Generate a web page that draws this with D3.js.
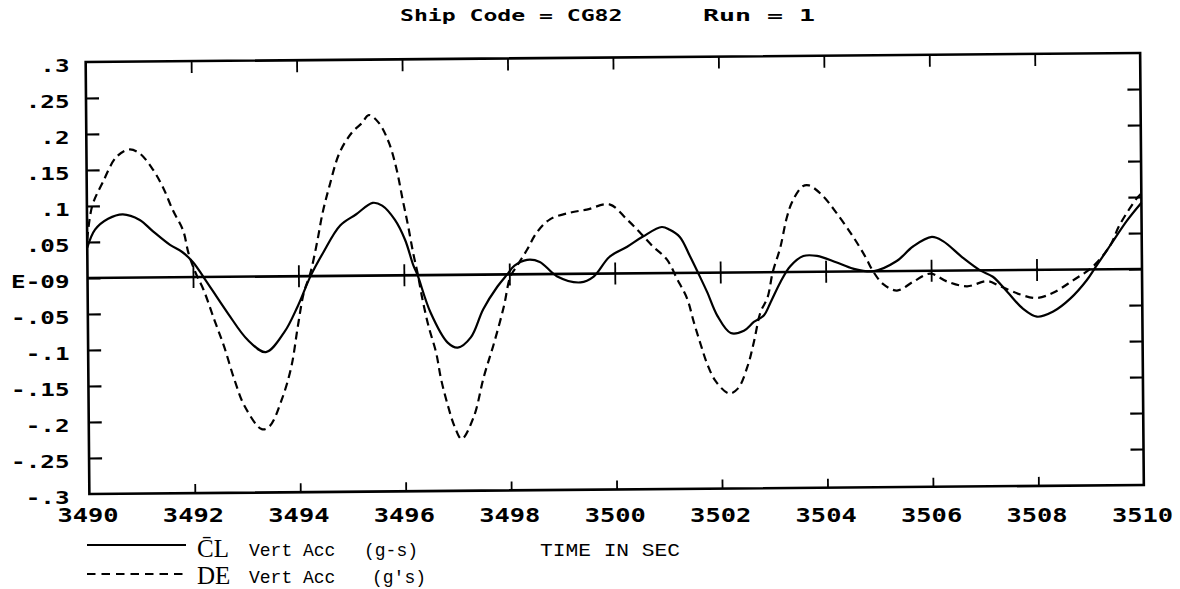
<!DOCTYPE html>
<html>
<head>
<meta charset="utf-8">
<script src="https://cdn.jsdelivr.net/npm/d3@7"></script>
<style>
  html, body { margin: 0; padding: 0; background: #fff; }
  svg { display: block; }
</style>
</head>
<body>
<script>
// Vertical acceleration at the centre line (CL) and at the DE station, seconds 3490-3510
const clTime = [3490.0, 3490.15, 3490.4, 3490.68, 3491.0, 3491.25, 3491.57, 3491.8, 3492.0, 3492.2,
  3492.65, 3493.03, 3493.37, 3493.72, 3493.98, 3494.23, 3494.47, 3494.8, 3495.1, 3495.42,
  3495.6, 3495.84, 3496.03, 3496.18, 3496.26, 3496.5, 3496.82, 3497.01, 3497.26, 3497.5,
  3497.77, 3497.96, 3498.1, 3498.34, 3498.58, 3498.9, 3499.35, 3499.6, 3499.9, 3500.24,
  3500.54, 3500.9, 3501.05, 3501.24, 3501.43, 3501.58, 3501.75, 3501.94, 3502.19, 3502.44,
  3502.63, 3502.82, 3502.95, 3503.14, 3503.33, 3503.58, 3503.84, 3504.2, 3504.52, 3504.9,
  3505.35, 3505.66, 3506.02, 3506.23, 3506.6, 3506.93, 3507.17, 3507.44, 3507.74, 3508.0,
  3508.31, 3508.64, 3508.95, 3509.11, 3509.4, 3509.72, 3510.0];
const clAcc = [0.042, 0.067, 0.082, 0.088, 0.080, 0.064, 0.045, 0.035, 0.021, 0.000,
  -0.050, -0.088, -0.105, -0.078, -0.042, 0.000, 0.032, 0.070, 0.085, 0.101,
  0.097, 0.077, 0.049, 0.014, 0.000, -0.052, -0.094, -0.101, -0.087, -0.048,
  -0.017, 0.000, 0.012, 0.020, 0.017, -0.003, -0.012, -0.004, 0.023, 0.037,
  0.051, 0.064, 0.060, 0.050, 0.023, 0.000, -0.027, -0.060, -0.084, -0.081,
  -0.069, -0.060, -0.042, -0.014, 0.008, 0.022, 0.022, 0.013, 0.004, 0.000,
  0.014, 0.034, 0.047, 0.041, 0.018, 0.000, -0.009, -0.030, -0.054, -0.065,
  -0.058, -0.040, -0.015, 0.002, 0.033, 0.067, 0.092];

const deTime = [3490.0, 3490.1, 3490.3, 3490.57, 3490.81, 3491.0, 3491.23, 3491.44, 3491.63, 3491.82,
  3491.92, 3492.05, 3492.2, 3492.4, 3492.58, 3492.77, 3492.96, 3493.28, 3493.43, 3493.66,
  3493.85, 3493.98, 3494.1, 3494.23, 3494.36, 3494.47, 3494.6, 3494.8, 3495.04, 3495.23,
  3495.36, 3495.55, 3495.74, 3495.88, 3495.99, 3496.09, 3496.18, 3496.26, 3496.35, 3496.46,
  3496.6, 3496.69, 3496.82, 3496.94, 3497.07, 3497.3, 3497.5, 3497.7, 3497.89, 3498.02,
  3498.15, 3498.34, 3498.53, 3498.78, 3499.16, 3499.48, 3499.91, 3500.24, 3500.48, 3500.73,
  3500.99, 3501.18, 3501.37, 3501.49, 3501.62, 3501.75, 3501.9, 3502.15, 3502.32, 3502.51,
  3502.63, 3502.76, 3502.89, 3503.0, 3503.14, 3503.27, 3503.38, 3503.58, 3503.7, 3503.95,
  3504.2, 3504.52, 3504.75, 3504.9, 3505.09, 3505.35, 3505.66, 3505.98, 3506.3, 3506.68,
  3507.06, 3507.3, 3507.69, 3508.0, 3508.31, 3508.69, 3509.07, 3509.4, 3509.58, 3509.9, 3510.0];
const deAcc = [0.053, 0.100, 0.132, 0.168, 0.178, 0.173, 0.153, 0.126, 0.093, 0.065,
  0.033, 0.006, -0.018, -0.060, -0.097, -0.143, -0.180, -0.212, -0.208, -0.172,
  -0.126, -0.070, -0.023, 0.005, 0.047, 0.088, 0.124, 0.171, 0.199, 0.212,
  0.223, 0.212, 0.184, 0.147, 0.105, 0.068, 0.031, 0.003, -0.034, -0.071,
  -0.108, -0.145, -0.183, -0.211, -0.228, -0.198, -0.142, -0.095, -0.045, -0.003,
  0.012, 0.034, 0.058, 0.076, 0.085, 0.089, 0.096, 0.075, 0.057, 0.037,
  0.019, -0.008, -0.036, -0.068, -0.100, -0.129, -0.151, -0.168, -0.161, -0.129,
  -0.096, -0.055, -0.036, 0.001, 0.033, 0.075, 0.098, 0.119, 0.120, 0.106,
  0.083, 0.049, 0.021, 0.000, -0.018, -0.027, -0.015, -0.004, -0.015, -0.022,
  -0.015, -0.022, -0.034, -0.039, -0.032, -0.015, 0.004, 0.033, 0.061, 0.097, 0.105];

const yTickValues = [0.3, 0.25, 0.2, 0.15, 0.1, 0.05, 0, -0.05, -0.1, -0.15, -0.2, -0.25, -0.3];
const yTickLabels = [".3", ".25", ".2", ".15", ".1", ".05", "E-09", "-.05", "-.1", "-.15", "-.2", "-.25", "-.3"];
const xTickValues = [3490, 3492, 3494, 3496, 3498, 3500, 3502, 3504, 3506, 3508, 3510];
const xTickLabels = ["3490", "3492", "3494", "3496", "3498", "3500", "3502", "3504", "3506", "3508", "3510"];

const titleParts = ["Ship Code = CG82", "Run = 1"];
const seriesNames = ["CL", "DE"];
const seriesUnits = ["(g-s)", "(g's)"];

const W = 1180, H = 589;
const svg = d3.select("body").append("svg").attr("width", W).attr("height", H);
svg.append("rect").attr("width", W).attr("height", H).attr("fill", "#fff");

const x = d3.scaleLinear().domain([3490, 3510]).range([87.5, 1142]);
const y = d3.scaleLinear().domain([-0.3, 0.3]).range([489.5, 57.5]);
const [x0, x1] = x.range();
const [yb, yt] = y.range();
const cx = (x0 + x1) / 2, cy = (yb + yt) / 2;

const MONO = "'DejaVu Sans Mono', monospace";

// Plot frame, ticks and traces share one slightly tilted group (plotter paper skew)
const plot = svg.append("g").attr("transform", `rotate(-0.49,${cx},${cy})`);

function styleAxis(g, w) {
  g.select(".domain").remove();
  g.selectAll(".tick line").attr("stroke", "#000").attr("stroke-width", w);
}
const innerY = yTickValues.slice(1, -1);
const innerX = xTickValues.slice(1, -1);

plot.append("g").attr("transform", `translate(${x0},0)`)
  .call(d3.axisLeft(y).tickValues(innerY).tickSize(-13).tickFormat(""))
  .call(g => styleAxis(g, 2.2));
plot.append("g").attr("transform", `translate(${x1},0)`)
  .call(d3.axisRight(y).tickValues(innerY).tickSize(-13).tickFormat(""))
  .call(g => styleAxis(g, 2.2));
plot.append("g").attr("transform", `translate(0,${yt})`)
  .call(d3.axisTop(x).tickValues(innerX).tickSize(-12).tickFormat(""))
  .call(g => styleAxis(g, 1.8));
plot.append("g").attr("transform", `translate(0,${yb})`)
  .call(d3.axisBottom(x).tickValues(innerX).tickSize(-9).tickFormat(""))
  .call(g => styleAxis(g, 1.8));

// zero line with crossing ticks
plot.append("g").attr("transform", `translate(0,${y(0)})`)
  .call(d3.axisBottom(x).tickValues(innerX).tickSize(11).tickFormat(""))
  .call(g => styleAxis(g, 1.8));
plot.append("g").attr("transform", `translate(0,${y(0)})`)
  .call(d3.axisTop(x).tickValues(innerX).tickSize(11).tickFormat(""))
  .call(g => styleAxis(g, 1.8));
plot.append("line")
  .attr("x1", x0).attr("x2", x1).attr("y1", y(0)).attr("y2", y(0))
  .attr("stroke", "#000").attr("stroke-width", 2.6);

plot.append("rect")
  .attr("x", x0).attr("y", yt).attr("width", x1 - x0).attr("height", yb - yt)
  .attr("fill", "none").attr("stroke", "#000").attr("stroke-width", 2.6);

const line = d3.line().curve(d3.curveCatmullRom.alpha(0.5));
const clPts = clTime.map((t, i) => [x(t), y(clAcc[i])]);
const dePts = deTime.map((t, i) => [x(t), y(deAcc[i])]);

plot.append("path").attr("d", line(dePts))
  .attr("fill", "none").attr("stroke", "#000").attr("stroke-width", 2.2)
  .attr("stroke-dasharray", "8,5");
plot.append("path").attr("d", line(clPts))
  .attr("fill", "none").attr("stroke", "#000").attr("stroke-width", 2.2);

// Tick labels (upright)
const yLab = svg.append("g").attr("transform", `translate(${x0},8.5)`)
  .call(d3.axisLeft(y).tickValues(yTickValues).tickSize(0).tickPadding(18)
    .tickFormat((d, i) => yTickLabels[i]));
yLab.select(".domain").remove();
yLab.selectAll("text")
  .attr("font-family", MONO).attr("font-weight", "bold").attr("font-size", 17)
  .attr("fill", "#000")
  .attr("textLength", (d, i) => yTickLabels[i].length * 14.6)
  .attr("lengthAdjust", "spacingAndGlyphs");

const xLab = svg.append("g").attr("transform", `translate(0,${yb + 18})`)
  .call(d3.axisBottom(x).tickValues(xTickValues).tickSize(0).tickPadding(0)
    .tickFormat((d, i) => xTickLabels[i]));
xLab.select(".domain").remove();
xLab.selectAll("text")
  .attr("font-family", MONO).attr("font-weight", "bold").attr("font-size", 20)
  .attr("fill", "#000")
  .attr("textLength", (d, i) => xTickLabels[i].length * 15.3)
  .attr("lengthAdjust", "spacingAndGlyphs");

// Title
const titleX = [400, 703];
const titlePitch = [13.9, 16];
titleParts.forEach((s, i) => {
  svg.append("text")
    .attr("x", titleX[i]).attr("y", 21)
    .attr("font-family", MONO).attr("font-weight", "bold").attr("font-size", 16)
    .attr("textLength", s.length * titlePitch[i]).attr("lengthAdjust", "spacingAndGlyphs")
    .text(s);
});

// Legend
const legY = [545, 574];
const legBase = [557, 584];
const legend = svg.append("g");
seriesNames.forEach((name, i) => {
  legend.append("line")
    .attr("x1", 87).attr("x2", 186).attr("y1", legY[i]).attr("y2", legY[i])
    .attr("stroke", "#000").attr("stroke-width", 2.2)
    .attr("stroke-dasharray", i === 1 ? "8.5,6" : null);
  legend.append("text")
    .attr("x", 197).attr("y", legBase[i])
    .attr("font-family", "'Liberation Serif', serif").attr("font-size", 25)
    .text(i === 0 ? "C\u0304L" : name);
  legend.append("text")
    .attr("x", 249).attr("y", legBase[i] - 1)
    .attr("font-family", "'Liberation Mono', monospace").attr("font-size", 18)
    .text("Vert Acc");
  legend.append("text")
    .attr("x", i === 0 ? 364 : 372).attr("y", legBase[i] - 1)
    .attr("font-family", "'Liberation Mono', monospace").attr("font-size", 18)
    .text(seriesUnits[i]);
});
legend.append("text")
  .attr("x", 540).attr("y", legBase[0] - 1)
  .attr("font-family", "'Liberation Mono', monospace").attr("font-size", 18)
  .attr("textLength", 140).attr("lengthAdjust", "spacingAndGlyphs")
  .text("TIME IN SEC");
</script>
</body>
</html>
